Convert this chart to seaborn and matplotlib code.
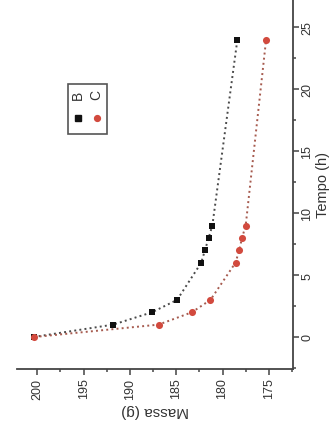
import pandas as pd
import matplotlib
matplotlib.use('Agg')
import matplotlib.pyplot as plt
from matplotlib.ticker import MultipleLocator
from matplotlib.patches import Rectangle
import seaborn as sns

# Dados (tempo em horas, massa em gramas)
tempo = [0, 1, 2, 3, 6, 7, 8, 9, 24]
massa_b = [200.4, 191.8, 187.6, 184.9, 182.3, 181.9, 181.5, 181.1, 178.4]
massa_c = [200.3, 186.9, 183.3, 181.3, 178.6, 178.2, 177.9, 177.5, 175.3]
series = ['B', 'C']

datos = pd.DataFrame({
    'tempo': tempo * 2,
    'massa': massa_b + massa_c,
    'amostra': ['B'] * len(tempo) + ['C'] * len(tempo),
})

sns.set_style('white')
plt.rcParams['font.family'] = ['Liberation Sans', 'DejaVu Sans']

cores = {'B': '#111111', 'C': '#d24a3e'}
linhas = {'B': '#4a4a4a', 'C': '#a65a4e'}
marcadores = {'B': 's', 'C': 'o'}
tamanhos = {'B': 19, 'C': 26}

fig = plt.figure(figsize=(3.31, 4.35), dpi=100)
ax = fig.add_axes([0.051, 0.149, 0.834, 0.851])

# grafico girado: massa no eixo horizontal, tempo no eixo vertical
for s in series:
    df = datos[datos['amostra'] == s]
    sns.lineplot(data=df, x='massa', y='tempo', estimator=None, sort=False,
                 color=linhas[s], linestyle=':', linewidth=1.4, ax=ax, legend=False)
    sns.scatterplot(data=df, x='massa', y='tempo', marker=marcadores[s],
                    color=cores[s], s=tamanhos[s], linewidth=0, ax=ax, legend=False, zorder=3)

ax.set_xlim(202.2, 172.4)
ax.set_ylim(-2.6, 27.3)
ax.xaxis.set_major_locator(MultipleLocator(5))
ax.xaxis.set_minor_locator(MultipleLocator(2.5))
ax.yaxis.set_major_locator(MultipleLocator(5))
ax.yaxis.set_minor_locator(MultipleLocator(2.5))

for lado in ['top', 'left']:
    ax.spines[lado].set_visible(False)
for lado in ['bottom', 'right']:
    ax.spines[lado].set_color('#444444')
    ax.spines[lado].set_linewidth(1.3)

ax.yaxis.tick_right()
ax.yaxis.set_label_position('right')
ax.tick_params(which='major', direction='out', length=4, width=1.1, color='#444444',
               labelsize=9, labelcolor='#333333', pad=2)
ax.tick_params(which='minor', direction='out', length=2.5, width=1.1, color='#444444')
ax.tick_params(axis='x', labelrotation=90, bottom=True, which='both')
ax.tick_params(axis='y', labelrotation=90, right=True, left=False, which='both')
for t in ax.get_yticklabels():
    t.set_va('center')

ax.set_xlabel('Massa (g)', fontsize=11, color='#333333', rotation=180, labelpad=3)
ax.set_ylabel('Tempo (h)', fontsize=10.5, color='#333333', rotation=90, labelpad=2)

# legenda (tambem girada)
ax.add_patch(Rectangle((0.186, 0.635), 0.139, 0.135, transform=ax.transAxes,
                       fill=False, edgecolor='#555555', linewidth=1.2, zorder=4))
pos_x = {'B': 0.222, 'C': 0.289}
for s in series:
    ax.text(pos_x[s], 0.743, s, transform=ax.transAxes, rotation=90, fontsize=10,
            color='#333333', ha='center', va='center')
    ax.plot([pos_x[s]], [0.678], marker=marcadores[s], color=cores[s], markersize=4.2,
            linestyle='none', transform=ax.transAxes, clip_on=False)

fig.savefig('out.png', dpi=100)
